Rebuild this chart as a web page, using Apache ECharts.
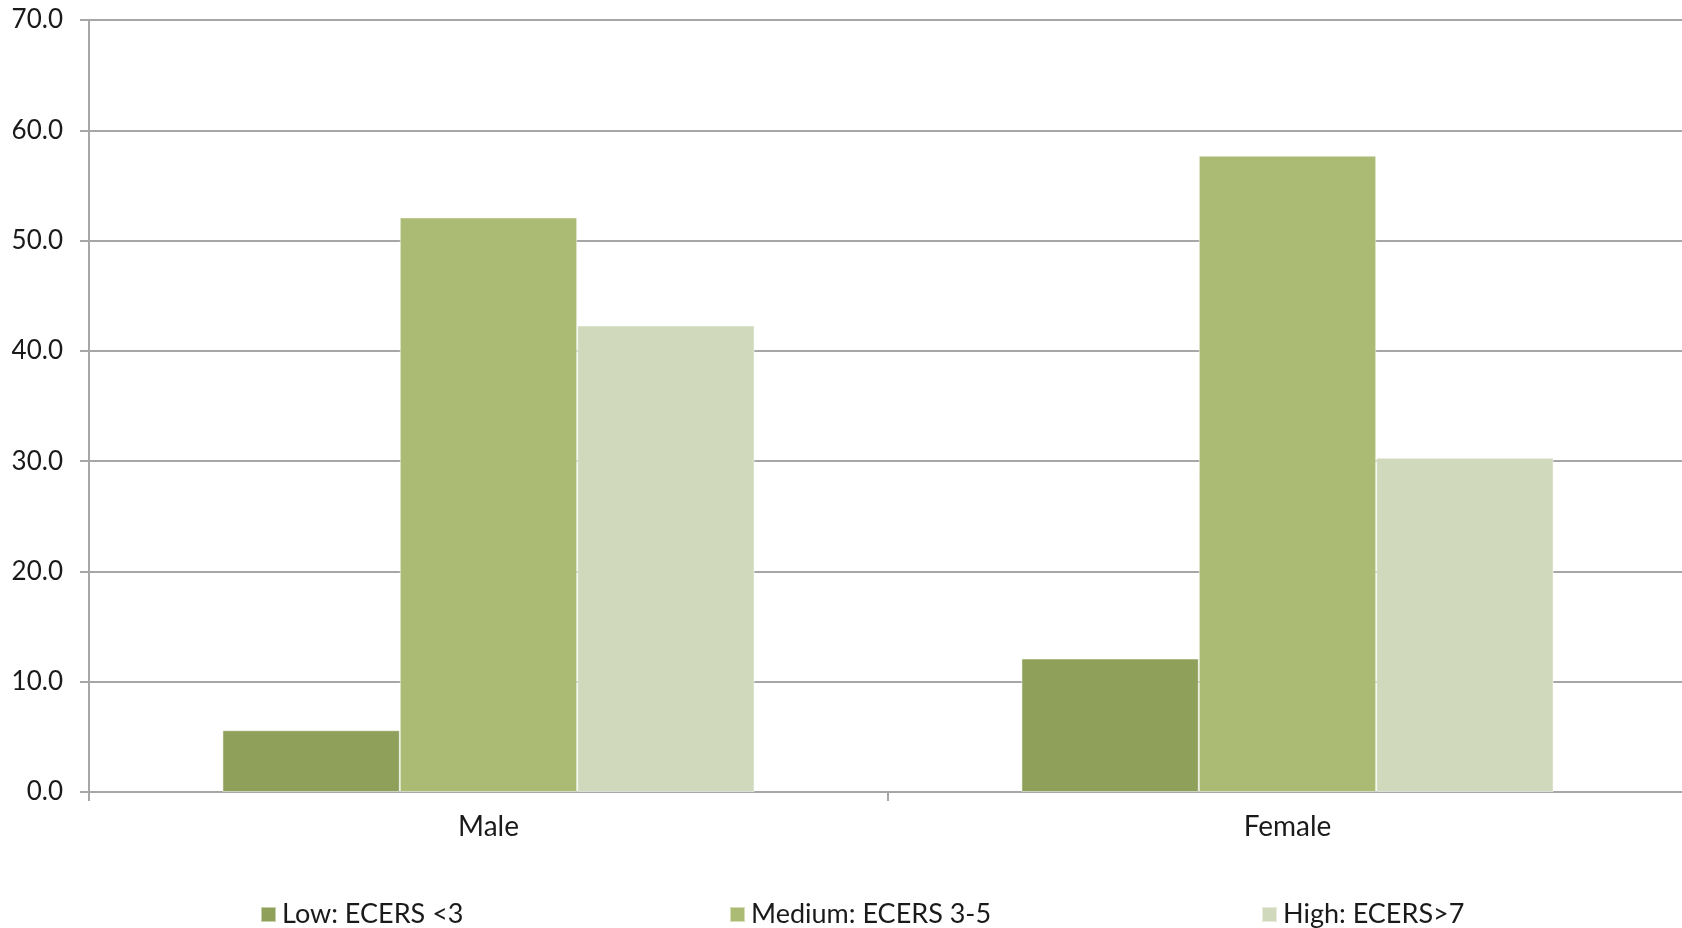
<!DOCTYPE html>
<html>
<head>
<meta charset="utf-8">
<script src="https://cdn.jsdelivr.net/npm/echarts@6/dist/echarts.min.js"></script>
<style>
html,body{margin:0;padding:0;background:#fff;}
#chart{width:1682px;height:928px;}
</style>
</head>
<body>
<div id="chart"></div>
<script>
const categories = ['Male', 'Female'];
const seriesNames = ['Low: ECERS <3', 'Medium: ECERS 3-5', 'High: ECERS>7'];
const lowValues = [5.6, 12.1];
const mediumValues = [52.1, 57.7];
const highValues = [42.3, 30.3];
const colors = ['#8EA05A', '#ABBB73', '#D0D9BB'];

const FONT = 'Lato, "Open Sans", sans-serif';
const chart = echarts.init(document.getElementById('chart'));
const seriesData = [lowValues, mediumValues, highValues];
const legendLefts = [255, 724, 1256];

chart.setOption({
  backgroundColor: '#ffffff',
  animation: false,
  grid: { left: 89, top: 20, width: 1598, bottom: 136, containLabel: false, outerBoundsMode: 'none' },
  legend: seriesNames.map((n, i) => ({
    data: [n],
    left: legendLefts[i],
    top: 896,
    itemWidth: 15,
    itemHeight: 15,
    itemGap: 6,
    icon: 'rect',
    textStyle: { fontFamily: FONT, fontSize: 27, color: '#1a1a1a', padding: [0, 0, 0, 1] }
  })),
  xAxis: {
    type: 'category',
    data: categories,
    axisLine: { show: true, lineStyle: { color: '#a6a6a6', width: 2 } },
    axisTick: { show: true, length: 9, inside: false, lineStyle: { color: '#a6a6a6', width: 2 } },
    axisLabel: { fontFamily: FONT, fontSize: 28, color: '#1a1a1a', margin: 21 },
    splitLine: { show: false }
  },
  yAxis: {
    type: 'value',
    min: 0,
    max: 70,
    interval: 10,
    axisLine: { show: true, lineStyle: { color: '#a6a6a6', width: 2 } },
    axisTick: { show: true, length: 9, lineStyle: { color: '#a6a6a6', width: 2 } },
    axisLabel: {
      fontFamily: FONT, fontSize: 26, color: '#1a1a1a', margin: 26,
      formatter: v => v.toFixed(1)
    },
    splitLine: { show: true, lineStyle: { color: '#a6a6a6', width: 2 } }
  },
  series: seriesNames.map((n, i) => ({
    name: n,
    type: 'bar',
    data: seriesData[i],
    barGap: '0%',
    barCategoryGap: '33.4%',
    itemStyle: { color: colors[i], borderColor: 'rgba(255,255,255,0.5)', borderWidth: 1 }
  }))
});
</script>
</body>
</html>
